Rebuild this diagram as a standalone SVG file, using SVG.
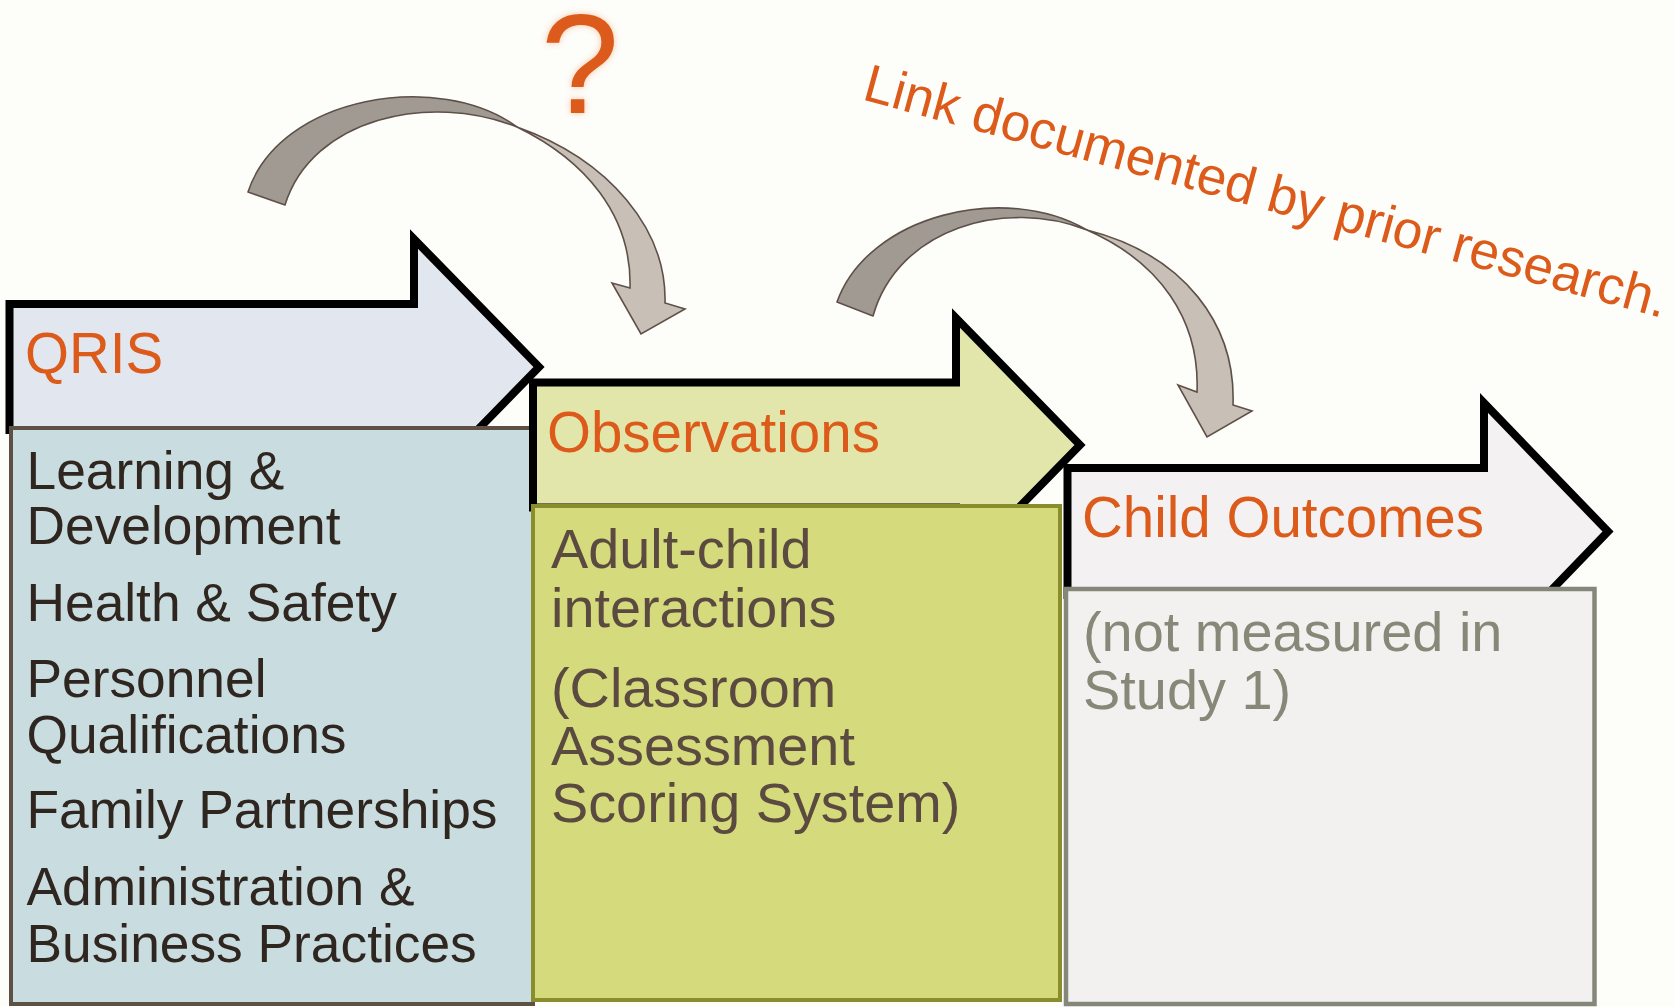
<svg xmlns="http://www.w3.org/2000/svg" width="1674" height="1007" viewBox="0 0 1674 1007">
  <defs>
    <style>
      .stage { stroke: #000; stroke-width: 8; stroke-linejoin: miter; stroke-miterlimit: 10; }
      .head { font-family: "Liberation Sans", Arial, sans-serif; font-size: 56.5px; fill: #dc5a1a; }
      .body { font-family: "Liberation Sans", Arial, sans-serif; }
      .curve-dark { fill: #a09a93; stroke: #5e5048; stroke-width: 1.6; stroke-linejoin: round; }
      .curve-light { fill: #c8c0b6; stroke: #5e5048; stroke-width: 1.6; stroke-linejoin: miter; }
      .note { font-family: "Liberation Sans", Arial, sans-serif; fill: #dc5a1a; }
    </style>
    <filter id="glow" x="-30%" y="-30%" width="160%" height="160%">
      <feGaussianBlur in="SourceAlpha" stdDeviation="3" result="b"/>
      <feFlood flood-color="#dc5a1a" flood-opacity="0.35"/>
      <feComposite in2="b" operator="in" result="g"/>
      <feMerge><feMergeNode in="g"/><feMergeNode in="SourceGraphic"/></feMerge>
    </filter>
  </defs>

  <rect width="1674" height="1007" fill="#fdfdf9"/>

  <!-- Stage 1: QRIS -->
  <g id="qris">
    <path class="stage" fill="#e1e6ef" d="M9.5,304 H414 V239 L539,367 L414,495 V430 H9.5 Z"/>
    <text class="head" x="25" y="373">QRIS</text>
    <rect x="11" y="428" width="522" height="576" fill="#c9dce0" stroke="#5e5045" stroke-width="4"/>
    <g class="body" font-size="53.3" fill="#2f2620">
      <text x="26.5" y="489">Learning &amp;</text>
      <text x="26.5" y="544">Development</text>
      <text x="26.5" y="621">Health &amp; Safety</text>
      <text x="26.5" y="697">Personnel</text>
      <text x="26.5" y="753">Qualifications</text>
      <text x="26.5" y="828">Family Partnerships</text>
      <text x="26.5" y="905">Administration &amp;</text>
      <text x="26.5" y="962">Business Practices</text>
    </g>
  </g>

  <!-- Stage 2: Observations -->
  <g id="observations">
    <path class="stage" fill="#e3e6ab" d="M533,382.5 H956 V318 L1080,445 L956,572 V507.5 H533 Z"/>
    <text class="head" x="547" y="452">Observations</text>
    <rect x="533" y="506" width="527" height="494" fill="#d5da7c" stroke="#8a8d2c" stroke-width="4"/>
    <g class="body" font-size="55.8" fill="#5b4a3f">
      <text x="551" y="568">Adult-child</text>
      <text x="551" y="627">interactions</text>
      <text x="551" y="707">(Classroom</text>
      <text x="551" y="765">Assessment</text>
      <text x="551" y="822">Scoring System)</text>
    </g>
  </g>

  <!-- Stage 3: Child Outcomes -->
  <g id="child-outcomes">
    <path class="stage" fill="#f3f1f1" d="M1067.5,468 H1484 V403 L1608,531.5 L1484,660 V595 H1067.5 Z"/>
    <text class="head" x="1082" y="537">Child Outcomes</text>
    <rect x="1066" y="589" width="528.5" height="415" fill="#f3f1f0" stroke="#86877b" stroke-width="4.5"/>
    <g class="body" font-size="55.9" fill="#878878">
      <text x="1083" y="651">(not measured in</text>
      <text x="1083" y="709">Study 1)</text>
    </g>
  </g>

  <!-- Curved links between stages -->
  <g id="connectors">
    <g id="link-qris-observations">
      <path class="curve-dark" d="M248,192 C280,95 440,70 517,127 C430,92 312,118 285,205 Z"/>
      <path class="curve-light" d="M517,127 C610,160 667,230 665,303 L685,309 L641,334 L612,283 L630,288 C632,215 585,160 517,127 Z"/>
    </g>
    <g id="link-observations-outcomes">
      <path class="curve-dark" d="M837,302 C868,215 1005,182 1087,230 C1005,198 898,228 873,316 Z"/>
      <path class="curve-light" d="M1087,230 C1185,255 1236,325 1233,405 L1252,411 L1207,437 L1178,385 L1197,392 C1200,320 1160,262 1087,230 Z"/>
    </g>
  </g>

  <!-- Annotations -->
  <g id="annotations">
    <text class="note" x="580" y="113" font-size="141" text-anchor="middle" filter="url(#glow)">?</text>
    <text class="note" font-size="53" transform="translate(861,99) rotate(15.3)">Link documented by prior research.</text>
  </g>
</svg>
